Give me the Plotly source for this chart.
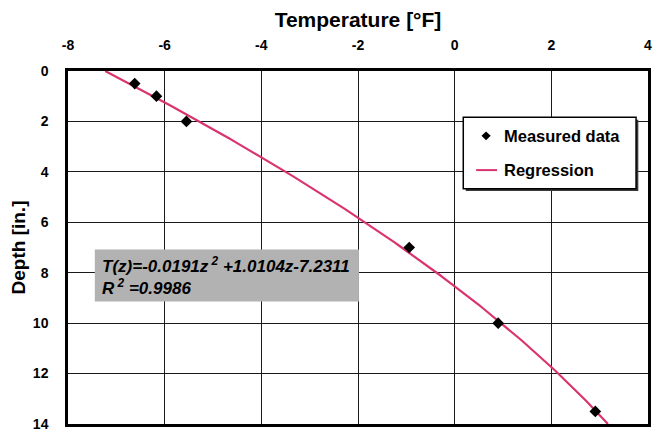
import numpy as np
import plotly.graph_objects as go

# Measured temperature profile
depth_in = [0.5, 1.0, 2.0, 7.0, 10.0, 13.5]
temp_f = [-6.62, -6.17, -5.55, -0.94, 0.90, 2.91]

# Quadratic regression coefficients T(z) = a*z^2 + b*z + c
coef_a = -0.0191
coef_b = 1.0104
coef_c = -7.2311
r_squared = 0.9986

x_ticks = [-8, -6, -4, -2, 0, 2, 4]
x_tick_text = ["-8", "-6", "-4", "-2", "0", "2", "4"]
y_ticks = [0, 2, 4, 6, 8, 10, 12, 14]

legend_labels = ["Measured data", "Regression"]

z_fit = np.linspace(0, 14, 141)
t_fit = coef_a * z_fit**2 + coef_b * z_fit + coef_c

FONT = "Liberation Sans, Arial, sans-serif"
LINE_COLOR = "#d9346f"

fig = go.Figure()
fig.add_trace(go.Scatter(
    x=t_fit, y=z_fit, mode="lines", name=legend_labels[1],
    line=dict(color=LINE_COLOR, width=2.2), showlegend=False,
))
fig.add_trace(go.Scatter(
    x=temp_f, y=depth_in, mode="markers", name=legend_labels[0],
    marker=dict(symbol="diamond", size=9, color="black"), showlegend=False,
))

axis_common = dict(
    showgrid=True, gridcolor="#1a1a1a", gridwidth=1,
    showline=True, linecolor="black", linewidth=2.5, mirror=True,
    ticks="", zeroline=False,
    tickfont=dict(family=FONT, size=14, color="black", weight="bold"),
)

fig.update_xaxes(
    range=[-8, 4], tickvals=x_ticks, ticktext=x_tick_text, side="top",
    ticklabelstandoff=13,
    title=dict(text="Temperature [°F]", standoff=4,
               font=dict(family=FONT, size=21, color="black", weight="bold")),
    **axis_common,
)
fig.update_yaxes(
    range=[14, 0], tickvals=y_ticks, ticklabelstandoff=14,
    title=dict(text="Depth [in.]", standoff=3,
               font=dict(family=FONT, size=19, color="black", weight="bold")),
    **axis_common,
)

# Regression equation box
fig.add_shape(type="rect", xref="x", yref="y", x0=-7.445, x1=-1.98, y0=7.08, y1=9.14,
              fillcolor="#b2b2b2", line=dict(width=0), layer="above")
eq_text = (f"<b><i>T(z)={coef_a}z<sup> 2</sup> +{coef_b}z{coef_c}</i></b><br>"
           f"<b><i>R<sup> 2</sup> ={r_squared}</i></b>")
fig.add_annotation(
    x=-7.34, y=8.12, xref="x", yref="y", xanchor="left", yanchor="middle",
    text=eq_text, showarrow=False, align="left",
    font=dict(family=FONT, size=17, color="black"),
)

# Legend box with drop shadow
fig.add_shape(type="rect", xref="x", yref="y", x0=0.23, x1=3.80, y0=1.93, y1=4.76,
              fillcolor="#3a3a3a", line=dict(width=0), layer="above")
fig.add_shape(type="rect", xref="x", yref="y", x0=0.178, x1=3.753, y0=1.83, y1=4.67,
              fillcolor="white", line=dict(color="black", width=1.5), layer="above")
# legend symbols
dx, dy = 0.095, 0.175
mx, my = 0.65, 2.57
fig.add_shape(type="path", xref="x", yref="y",
              path=f"M {mx-dx},{my} L {mx},{my-dy} L {mx+dx},{my} L {mx},{my+dy} Z",
              fillcolor="black", line=dict(width=0), layer="above")
fig.add_shape(type="line", xref="x", yref="y", x0=0.445, x1=0.877, y0=3.93, y1=3.93,
              line=dict(color=LINE_COLOR, width=2), layer="above")
for label, ly in zip(legend_labels, [2.57, 3.93]):
    fig.add_annotation(x=0.98, y=ly, xref="x", yref="y", xanchor="left", yanchor="middle",
                       text=f"<b>{label}</b>", showarrow=False,
                       font=dict(family=FONT, size=16.5, color="black"))

fig.update_layout(
    width=662, height=442,
    margin=dict(l=68, r=10, t=71, b=11),
    paper_bgcolor="white", plot_bgcolor="white",
    font=dict(family=FONT, color="black"),
    showlegend=False,
)

fig.write_html("out.html")
